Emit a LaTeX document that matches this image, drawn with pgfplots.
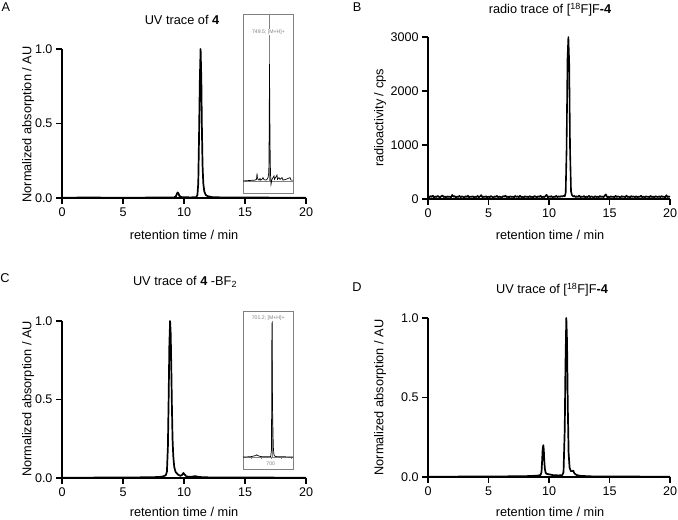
\documentclass[border=0pt]{standalone}
\usepackage{pgfplots}
\pgfplotsset{compat=1.18}
\usepackage{fontspec}
\setmainfont{Liberation Sans}
\definecolor{framegray}{gray}{0.5}
\newcommand{\lblfont}{\fontsize{12.8}{15}\selectfont}
\pgfplotsset{
 chrom/.style={
  scale only axis, width=244bp, height=149bp, anchor=south west,
  axis lines*=left, xmin=0, xmax=20, ymin=0, xtick={0,5,10,15,20},
  axis line style={line width=1.9bp},
  every tick/.style={black, line width=1.7bp}, major tick length=6bp, tick align=outside,
  tick label style={font=\fontsize{12.6}{14}\selectfont},
  /pgf/number format/assume math mode=true,
  clip=false,
 },
 uv/.style={ymax=1, ytick={0,0.5,1}, yticklabel style={/pgf/number format/.cd, fixed, fixed zerofill, precision=1}},
 trace/.style={black, line width=1.7bp, no markers, line join=round},
 inset/.style={scale only axis, anchor=south west, width=50bp, axis line style={framegray, line width=0.9bp}, ticks=none, ymax=1, clip=false},
 spec/.style={black, line width=0.7bp, no markers},
 itick/.style={framegray, line width=0.4bp, no markers},
}
\begin{document}
\begin{tikzpicture}[x=1bp,y=1bp]
\useasboundingbox (0,0) rectangle (678,520);

% ---------- A ----------
\begin{axis}[chrom, uv, at={(62bp,322bp)}, width=244bp, height=149bp]
\addplot[trace] coordinates {
(0,0.002) (2,0.003) (5,0.002) (8,0.003) (9.2,0.004) (9.35,0.012) (9.42,0.03) (9.48,0.037) (9.54,0.032) (9.62,0.014) (9.8,0.006) (10.5,0.004) (11.0,0.005) (11.1,0.02) (11.17,0.1) (11.23,0.4) (11.3,0.8) (11.36,1.0) (11.42,0.8) (11.47,0.45) (11.52,0.22) (11.58,0.1) (11.66,0.045) (11.78,0.02) (11.95,0.012) (12.3,0.006) (13,0.004) (15,0.003) (20,0.002)};
\end{axis}
\begin{axis}[inset, at={(243bp,327bp)}, height=179bp, xmin=723, xmax=773, ymin=-0.072]
\addplot[framegray, line width=0.5bp, no markers] coordinates {(749.5,0) (749.5,1)};
\addplot[framegray, line width=0.6bp, no markers] coordinates {(723,0) (773,0)};
\addplot[spec] coordinates {
(723,0) (730,0.003) (735,0.005) (736.5,0.01) (737,0.045) (737.4,0.02) (738,0.01) (739,0.005) (740,0.015) (740.5,0.005) (742,0.01) (743,0.02) (744,0.008) (746,0.005) (747,0.01) (748,0.02) (748.8,0.05) (749.2,0.3) (749.5,0.7) (749.8,0.4) (750.2,0.15) (750.5,0.04) (751,-0.02) (752,0.01) (753,0.02) (754,0.03) (754.5,0.01) (756,0.025) (757,0.035) (757.5,0.01) (759,0.02) (760,0.01) (762,0.02) (763,0.005) (766,0.01) (770,0.02) (771,0.005) (773,0.005)};
\node[framegray, font=\fontsize{5.2}{6}\selectfont, fill=white, inner sep=0.5bp] at (axis cs:748.5,0.89) {749.5; [M+H]+};
\end{axis}

% ---------- B ----------
\begin{axis}[chrom, at={(428bp,321bp)}, width=242bp, height=162bp, ymax=3000, ytick={0,1000,2000,3000}, scaled y ticks=false, yticklabel style={/pgf/number format/1000 sep={}}]
\addplot[trace, line width=1.6bp] coordinates {
(0.0,45) (0.1,30) (0.2,55) (0.3,38) (0.4,62) (0.5,25) (0.6,48) (0.7,35) (0.8,58) (0.9,40)
(1.0,28) (1.1,52) (1.2,66) (1.3,33) (1.4,47) (1.5,22) (1.6,50) (1.7,38) (1.8,44) (1.9,30)
(2.0,75) (2.1,42) (2.2,55) (2.3,27) (2.4,46) (2.5,36) (2.6,58) (2.7,31) (2.8,49) (2.9,40)
(3.0,24) (3.1,53) (3.2,37) (3.3,60) (3.4,29) (3.5,45) (3.6,39) (3.7,51) (3.8,26) (3.9,43)
(4.0,35) (4.1,57) (4.2,32) (4.3,48) (4.4,72) (4.5,30) (4.6,44) (4.7,37) (4.8,52) (4.9,28)
(5.0,46) (5.1,34) (5.2,55) (5.3,40) (5.4,23) (5.5,49) (5.6,36) (5.7,58) (5.8,31) (5.9,45)
(6.0,38) (6.1,27) (6.2,53) (6.3,41) (6.4,62) (6.5,33) (6.6,47) (6.7,29) (6.8,50) (6.9,37)
(7.0,44) (7.1,26) (7.2,56) (7.3,39) (7.4,48) (7.5,32) (7.6,59) (7.7,35) (7.8,43) (7.9,25)
(8.0,51) (8.1,38) (8.2,46) (8.3,30) (8.4,54) (8.5,36) (8.6,42) (8.7,28) (8.8,57) (8.9,40)
(9.0,33) (9.1,49) (9.2,37) (9.3,61) (9.4,29) (9.5,45) (9.6,34) (9.7,52) (9.8,78) (9.9,31)
(10.0,47) (10.1,38) (10.2,55) (10.3,27) (10.4,44) (10.5,36) (10.6,58) (10.7,33) (10.8,48) (10.9,40)
(11.0,52) (11.1,45) (11.2,60) (11.3,50) (11.38,120) (11.45,900) (11.53,2600) (11.6,3000) (11.67,2500) (11.74,900) (11.82,140) (11.9,70)
(12.0,45) (12.1,58) (12.2,34) (12.3,50) (12.4,39) (12.5,63) (12.6,30) (12.7,46) (12.8,37) (12.9,55)
(13.0,28) (13.1,44) (13.2,35) (13.3,57) (13.4,31) (13.5,48) (13.6,40) (13.7,26) (13.8,53) (13.9,36)
(14.0,45) (14.1,29) (14.2,56) (14.3,38) (14.4,47) (14.5,32) (14.6,60) (14.7,85) (14.8,34) (14.9,43)
(15.0,27) (15.1,51) (15.2,37) (15.3,45) (15.4,30) (15.5,58) (15.6,35) (15.7,49) (15.8,41) (15.9,25)
(16.0,54) (16.1,39) (16.2,46) (16.3,31) (16.4,62) (16.5,36) (16.6,44) (16.7,28) (16.8,55) (16.9,38)
(17.0,47) (17.1,33) (17.2,52) (17.3,29) (17.4,45) (17.5,37) (17.6,59) (17.7,32) (17.8,48) (17.9,24)
(18.0,50) (18.1,39) (18.2,43) (18.3,30) (18.4,57) (18.5,35) (18.6,46) (18.7,27) (18.8,53) (18.9,40)
(19.0,36) (19.1,49) (19.2,31) (19.3,56) (19.4,38) (19.5,44) (19.6,28) (19.7,70) (19.8,34) (19.9,47) (20.0,40)};
\end{axis}

% ---------- C ----------
\begin{axis}[chrom, uv, at={(62bp,42bp)}, width=244bp, height=157bp]
\addplot[trace] coordinates {
(0,0.002) (5,0.003) (7.5,0.005) (8.2,0.008) (8.5,0.017) (8.6,0.04) (8.68,0.2) (8.74,0.5) (8.8,0.85) (8.86,1.0) (8.91,0.92) (8.96,0.7) (9.01,0.45) (9.06,0.25) (9.12,0.14) (9.2,0.07) (9.3,0.04) (9.5,0.022) (9.7,0.014) (9.85,0.02) (9.95,0.032) (10.05,0.022) (10.2,0.01) (10.5,0.007) (10.8,0.01) (10.9,0.012) (11.0,0.01) (11.3,0.006) (12,0.004) (13,0.004) (15,0.003) (20,0.002)};
\end{axis}
\begin{axis}[inset, at={(243bp,51bp)}, height=158bp, xmin=672.3, xmax=722.3, ymin=-0.082]
\addplot[framegray, line width=0.5bp, no markers] coordinates {(701.2,0) (701.2,0.95)};
\addplot[framegray, line width=0.6bp, no markers] coordinates {(672.3,0) (722.3,0)};
\addplot[itick] coordinates {(680,0) (680,-0.013)};
\addplot[itick] coordinates {(690,0) (690,-0.013)};
\addplot[itick] coordinates {(700,0) (700,-0.013)};
\addplot[itick] coordinates {(710,0) (710,-0.013)};
\addplot[itick] coordinates {(720,0) (720,-0.013)};
\addplot[spec] coordinates {
(672.3,0) (680,0.002) (685,0.01) (686,0.015) (687,0.01) (690,0.003) (695,0.002) (700,0.003) (700.8,0.05) (701.0,0.5) (701.2,0.92) (701.5,0.6) (701.8,0.35) (702.2,0.2) (702.6,0.07) (703,0.03) (703.5,0.01) (705,0.003) (710,0.002) (722.3,0)};
\node[framegray, font=\fontsize{5.2}{6}\selectfont] at (axis cs:700,-0.048) {700};
\node[framegray, font=\fontsize{5.2}{6}\selectfont, fill=white, inner sep=0.5bp] at (axis cs:697.5,0.95) {701.2; [M+H]+};
\end{axis}

% ---------- D ----------
\begin{axis}[chrom, uv, at={(428bp,43bp)}, width=242bp, height=159bp]
\addplot[trace] coordinates {
(0,0.002) (5,0.003) (8,0.005) (9.0,0.008) (9.3,0.012) (9.38,0.03) (9.43,0.1) (9.48,0.18) (9.53,0.2) (9.57,0.17) (9.61,0.1) (9.66,0.05) (9.72,0.027) (9.8,0.02) (10,0.017) (10.3,0.012) (10.8,0.01) (11.1,0.012) (11.2,0.03) (11.3,0.3) (11.36,0.7) (11.43,1.0) (11.49,0.85) (11.55,0.45) (11.62,0.15) (11.7,0.06) (11.8,0.037) (11.9,0.037) (12.0,0.04) (12.1,0.022) (12.3,0.012) (12.6,0.007) (13.5,0.004) (15,0.003) (20,0.002)};
\end{axis}

% ---------- texts ----------
\node[font=\lblfont] at (6,512.5) {A};
\node[font=\lblfont] at (357,513) {B};
\node[font=\lblfont] at (5,242) {C};
\node[font=\lblfont] at (357,233) {D};

\node[font=\lblfont] at (182,500) {UV trace of \textbf{4}};
\node[font=\lblfont] at (550,510) {radio trace of [\textsuperscript{18}F]F\textbf{-4}};
\node[font=\lblfont] at (185,238) {UV trace of \textbf{4} -BF\textsubscript{2}};
\node[font=\lblfont] at (552,230) {UV trace of [\textsuperscript{18}F]F\textbf{-4}};

\node[font=\lblfont, rotate=90] at (28,395.5) {Normalized absorption / AU};
\node[font=\lblfont, rotate=90] at (380,402) {radioactivity / cps};
\node[font=\lblfont, rotate=90] at (28,121) {Normalized absorption / AU};
\node[font=\lblfont, rotate=90] at (380,122.5) {Normalized absorption / AU};

\node[font=\lblfont] at (184,285) {retention time / min};
\node[font=\lblfont] at (550,285) {retention time / min};
\node[font=\lblfont] at (184,8) {retention time / min};
\node[font=\lblfont] at (550,8) {retention time / min};
\end{tikzpicture}
\end{document}
